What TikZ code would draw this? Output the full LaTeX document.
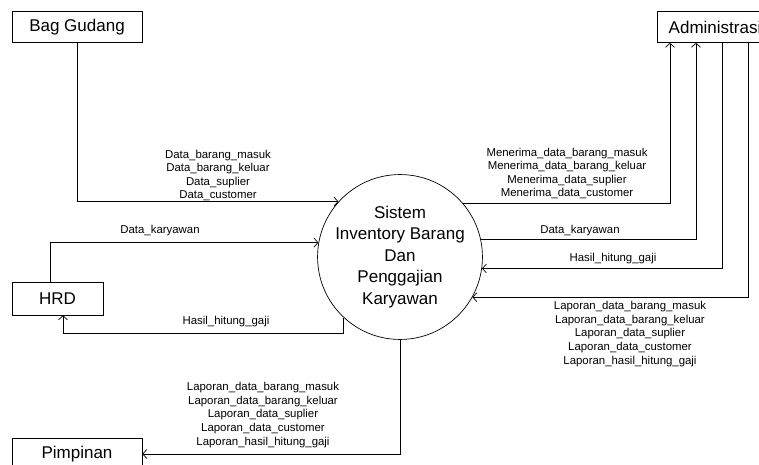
\documentclass[tikz,border=0pt]{standalone}
\usepackage{fontspec}
\setmainfont{Liberation Sans}
\usetikzlibrary{positioning, arrows.meta}

\tikzset{
    entitas/.style = {draw, rectangle, minimum height=31pt, inner sep=0pt, line width=0.7pt, font=\fontsize{17}{21.5}\selectfont},
    proses/.style = {draw, circle, minimum size=156pt, inner sep=0pt, align=center, line width=0.7pt, font=\fontsize{17}{21.5}\selectfont},
    aliran/.style = {-{Straight Barb[length=4pt, width=9pt]}, line width=0.7pt},
    keterangan/.style = {align=center, inner sep=0pt, font=\fontsize{11.4}{13.6}\selectfont}
}

\begin{document}
\begin{tikzpicture}[x=1pt, y=-1pt]
            \useasboundingbox (0,0) rectangle (759,465);

            \node[entitas, minimum width=130pt] (gudang) at (77,27) {Bag Gudang};
            \node[entitas, minimum width=116pt] (admin) at (715,27) {Administrasi};
            \node[entitas, minimum width=91pt, minimum height=33pt] (hrd) at (57.5,298.5) {HRD};
            \node[entitas, minimum width=130pt] (pimpinan) at (77,454) {Pimpinan};
            \node[proses] (sistem) at (400,257) {Sistem\\Inventory Barang\\Dan\\Penggajian\\Karyawan};

            \coordinate (gajibawah) at (63,333);

            % masuk ke sistem
            \draw[aliran] (gudang.south) |- (sistem.138);
            \draw[aliran] ([xshift=-7pt]hrd.north) |- (sistem.170);
            \draw[aliran] ([xshift=7pt]admin.south) |- (sistem.-8);
            \draw[aliran] ([xshift=33pt]admin.south) |- (sistem.-29);

            % keluar dari sistem
            \draw[aliran] (sistem.40) -| ([xshift=-45pt]admin.south);
            \draw[aliran] (sistem.12) -| ([xshift=-19pt]admin.south);
            \draw[aliran] (sistem.227) |- (gajibawah) -- (hrd.south -| gajibawah);
            \draw[aliran] (sistem.south) |- (pimpinan.east);

            \node[keterangan] (ketgudang) at (218,175.5) {Data\_barang\_masuk\\Data\_barang\_keluar\\Data\_suplier\\Data\_customer};
            \node[keterangan] (ketkarykiri) at (160,231) {Data\_karyawan};
            \node[keterangan] (ketgajikiri) at (226,322) {Hasil\_hitung\_gaji};
            \node[keterangan] (ketpimpinan) at (263,415) {Laporan\_data\_barang\_masuk\\Laporan\_data\_barang\_keluar\\Laporan\_data\_suplier\\Laporan\_data\_customer\\Laporan\_hasil\_hitung\_gaji};
            \node[keterangan] (ketmenerima) at (567,173.5) {Menerima\_data\_barang\_masuk\\Menerima\_data\_barang\_keluar\\Menerima\_data\_suplier\\Menerima\_data\_customer};
            \node[keterangan] (ketkarykanan) at (580,231) {Data\_karyawan};
            \node[keterangan] (ketgajikanan) at (613,259) {Hasil\_hitung\_gaji};
            \node[keterangan] (ketlaporan) at (630,334) {Laporan\_data\_barang\_masuk\\Laporan\_data\_barang\_keluar\\Laporan\_data\_suplier\\Laporan\_data\_customer\\Laporan\_hasil\_hitung\_gaji};
        \end{tikzpicture}
\end{document}
